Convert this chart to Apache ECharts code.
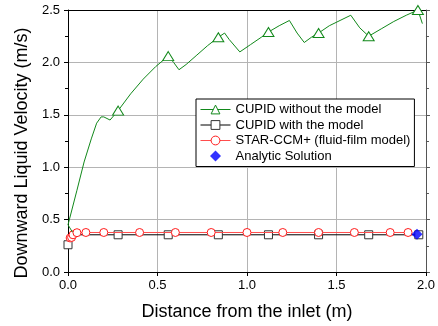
<!DOCTYPE html>
<html><head><meta charset="utf-8">
<script src="https://cdn.jsdelivr.net/npm/echarts@6/dist/echarts.min.js"></script>
<style>html,body{margin:0;padding:0;background:#fff}#c{width:438px;height:326px}</style>
</head><body><div id="c"></div>
<script>
const seriesNames = ['CUPID without the model', 'CUPID with the model', 'STAR-CCM+ (fluid-film model)', 'Analytic Solution'];
const xTitle = 'Distance from the inlet (m)';
const yTitle = 'Downward Liquid Velocity (m/s)';

const noModelX = [0.025, 0.0, 0.05, 0.09, 0.13, 0.16, 0.185, 0.20, 0.235, 0.28, 0.35, 0.42, 0.49, 0.56, 0.59, 0.62, 0.66, 0.72, 0.78, 0.84, 0.875, 0.90, 0.96, 1.02, 1.08, 1.12, 1.18, 1.237, 1.28, 1.32, 1.36, 1.40, 1.46, 1.52, 1.58, 1.63, 1.68, 1.75, 1.82, 1.89, 1.955, 1.98];
const noModelY = [0.38, 0.45, 0.78, 1.05, 1.27, 1.42, 1.48, 1.48, 1.45, 1.54, 1.70, 1.84, 1.96, 2.06, 2.00, 1.93, 1.98, 2.07, 2.16, 2.24, 2.28, 2.22, 2.10, 2.17, 2.24, 2.29, 2.35, 2.40, 2.28, 2.19, 2.24, 2.28, 2.35, 2.40, 2.45, 2.33, 2.25, 2.32, 2.39, 2.45, 2.50, 2.37];
const noModelMarkerX = [0.28, 0.56, 0.84, 1.12, 1.40, 1.68, 1.955];

const withModelX = [0.0, 0.005, 0.28, 0.56, 0.84, 1.12, 1.40, 1.68, 1.96];
const withModelY = [0.26, 0.355, 0.355, 0.355, 0.355, 0.355, 0.355, 0.355, 0.355];
const withModelMarkerX = [0.0, 0.28, 0.56, 0.84, 1.12, 1.40, 1.68, 1.96];

const starX = [0.012, 0.02, 0.028, 0.05, 0.1, 0.2, 0.4, 0.6, 0.8, 1.0, 1.2, 1.4, 1.6, 1.8, 1.9];
const starY = [0.325, 0.33, 0.355, 0.375, 0.377, 0.377, 0.377, 0.377, 0.377, 0.377, 0.377, 0.377, 0.377, 0.377, 0.377];

const analyticX = [1.95];
const analyticY = [0.36];

function build(xs, ys, markers) {
  return xs.map((x, i) => {
    const item = { value: [x, ys[i]] };
    if (markers && markers.indexOf(x) < 0) item.symbol = 'none';
    return item;
  });
}

const FONT = 'Liberation Sans, Arial, sans-serif';
const GREEN = '#11881a', RED = '#ff1a1a', BLUE = '#0000ff';
const chart = echarts.init(document.getElementById('c'));
chart.setOption({
  animation: false,
  backgroundColor: '#fff',
  grid: { left: 68, right: 12, top: 10, bottom: 54, containLabel: false },
  xAxis: [{
    type: 'value', min: 0, max: 2, interval: 0.5,
    axisLine: { show: true, onZero: false, lineStyle: { color: '#000', width: 1 } },
    axisTick: { show: true, inside: false, length: 4, lineStyle: { color: '#000' } },
    axisLabel: { formatter: v => v.toFixed(1), fontSize: 13, color: '#000', fontFamily: FONT, margin: 7 },
    splitLine: { show: true, lineStyle: { color: '#b4b4b4', width: 1 } }
  }, {
    type: 'value', min: 0, max: 2, interval: 0.5, position: 'top',
    axisLine: { show: true, onZero: false, lineStyle: { color: '#000', width: 1 } },
    axisTick: { show: false }, axisLabel: { show: false }, splitLine: { show: false }
  }],
  yAxis: [{
    type: 'value', min: 0, max: 2.5, interval: 0.5,
    axisLine: { show: true, onZero: false, lineStyle: { color: '#000', width: 1 } },
    axisTick: { show: true, inside: false, length: 4, lineStyle: { color: '#000' } },
    minorTick: { show: true, splitNumber: 2, length: 3, lineStyle: { color: '#000' } },
    axisLabel: { formatter: v => v.toFixed(1), fontSize: 13, color: '#000', fontFamily: FONT, margin: 8 },
    splitLine: { show: true, lineStyle: { color: '#b4b4b4', width: 1 } }
  }, {
    type: 'value', min: 0, max: 2.5, interval: 0.5, position: 'right',
    axisLine: { show: true, onZero: false, lineStyle: { color: '#555', width: 1 } },
    axisTick: { show: true, inside: false, length: 4, lineStyle: { color: '#555' } },
    minorTick: { show: true, splitNumber: 2, length: 3, lineStyle: { color: '#555' } },
    axisLabel: { show: false }, splitLine: { show: false }
  }],
  legend: {
    data: [
      { name: seriesNames[0] },
      { name: seriesNames[1] },
      { name: seriesNames[2] },
      { name: seriesNames[3], icon: 'path://M0,-1 L1,0 L0,1 L-1,0 Z' }
    ],
    orient: 'vertical', left: 196, top: 99,
    padding: [4, 4, 4, 4], itemGap: 2.5, itemWidth: 30, itemHeight: 11,
    backgroundColor: '#fff', borderColor: '#000', borderWidth: 1, borderRadius: 0,
    itemStyle: { borderWidth: 1 },
    lineStyle: { width: 1 },
    textStyle: { fontSize: 13, color: '#000', fontFamily: FONT, lineHeight: 12.5 }
  },
  graphic: [
    { type: 'text', x: 22, y: 153, rotation: Math.PI / 2,
      style: { text: yTitle, font: '18px ' + FONT, fill: '#000', align: 'center', verticalAlign: 'middle' } },
    { type: 'text', x: 247, y: 312,
      style: { text: xTitle, font: '18px ' + FONT, fill: '#000', align: 'center', verticalAlign: 'middle' } }
  ],
  series: [
    { name: seriesNames[1], type: 'line', data: build(withModelX, withModelY, withModelMarkerX),
      symbol: 'rect', symbolSize: 8, color: '#000',
      itemStyle: { color: '#fff', borderColor: '#333', borderWidth: 1 },
      lineStyle: { color: '#000', width: 1 }, z: 2 },
    { name: seriesNames[2], type: 'line', data: build(starX, starY, null),
      symbol: 'circle', symbolSize: 8, color: RED,
      itemStyle: { color: '#fff', borderColor: RED, borderWidth: 1 },
      lineStyle: { color: '#ff4d4d', width: 1 }, z: 3 },
    { name: seriesNames[0], type: 'line', data: build(noModelX, noModelY, noModelMarkerX),
      symbol: 'triangle', symbolSize: [11, 9], color: GREEN,
      itemStyle: { color: '#fff', borderColor: GREEN, borderWidth: 1 },
      lineStyle: { color: GREEN, width: 1 }, z: 4, clip: true },
    { name: seriesNames[3], type: 'scatter', data: build(analyticX, analyticY, null),
      symbol: 'diamond', symbolSize: 11, itemStyle: { color: BLUE }, z: 5 }
  ]
});
</script></body></html>
